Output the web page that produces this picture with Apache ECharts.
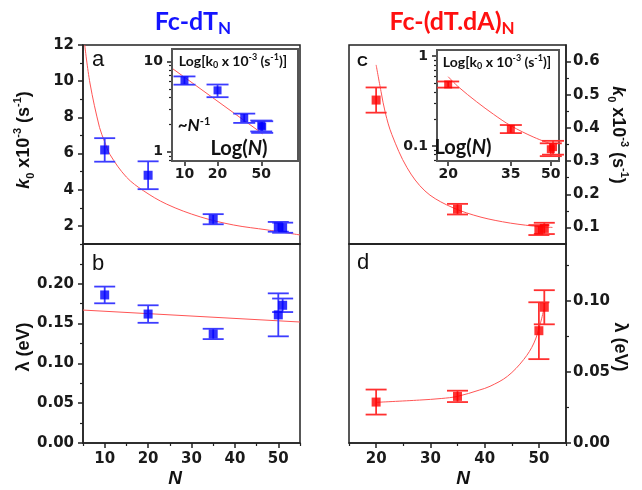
<!DOCTYPE html>
<html>
<head>
<meta charset="utf-8">
<title>Fc-dT vs Fc-(dT.dA)</title>
<script src="https://cdn.jsdelivr.net/npm/echarts@6/dist/echarts.min.js"></script>
</head>
<body style="margin:0;background:#fff">
<div id="container" style="width:642px;height:490px"></div>
<script type="text/javascript">
// Fc-dT_N (blue)
var nBlue = [10, 20, 35, 50, 51];
var k0Blue = [6.2, 4.8, 2.37, 1.95, 1.9];
var k0BlueErr = [0.65, 0.77, 0.28, 0.27, 0.28];
var lamBlue = [0.186, 0.162, 0.137, 0.161, 0.173];
var lamBlueErr = [0.0105, 0.011, 0.0065, 0.027, 0.0085];

// Fc-(dT.dA)_N (red)
var nRed = [20, 35, 50, 51];
var k0Red = [0.484, 0.155, 0.092, 0.097];
var k0RedErr = [0.038, 0.016, 0.015, 0.017];
var lamRed = [0.0288, 0.0328, 0.079, 0.0955];
var lamRedErr = [0.0088, 0.004, 0.020, 0.012];

// fitted curves
var fitA_N = [5.4, 6.6, 8.8, 10, 11.2, 15, 18.9, 24.3, 32, 39.7, 47.4, 55];
var fitA_k = [12, 9.9, 7.45, 6.65, 5.95, 4.7, 3.95, 3.2, 2.5, 2.05, 1.78, 1.5];
var fitB_N = [5, 55];
var fitB_lam = [0.167, 0.152];
var fitC_N = [20, 20.9, 21.7, 22.9, 25.7, 29, 33, 38, 43.3, 49, 52.5];
var fitC_k = [0.59, 0.51, 0.445, 0.38, 0.28, 0.21, 0.168, 0.137, 0.117, 0.104, 0.1];
var fitD_N = [20, 28, 32, 35, 39, 41, 44.2, 47.2, 49.1, 50.3, 50.9];
var fitD_lam = [0.0286, 0.0302, 0.0313, 0.0328, 0.0372, 0.0399, 0.0469, 0.0587, 0.0704, 0.0845, 0.0939];
var fitInsA_N = [7.86, 51.5];
var fitInsA_k = [8.3, 1.58];
var fitInsC_N = [20, 22, 25.8, 30, 35, 43, 51.2];
var fitInsC_k = [0.59, 0.45, 0.31, 0.225, 0.168, 0.125, 0.103];

// tick labels
var ticksA = [2, 4, 6, 8, 10, 12];
var ticksB = [0, 0.05, 0.1, 0.15, 0.2];
var ticksC = [0.1, 0.2, 0.3, 0.4, 0.5, 0.6];
var ticksD = [0, 0.05, 0.1];
var ticksNb = [10, 20, 30, 40, 50];
var ticksNd = [20, 30, 40, 50];
var ticksInsAx = [10, 20, 50];
var ticksInsAy = [1, 10];
var ticksInsCx = [20, 35, 50];
var ticksInsCy = [0.1, 1];

var BLUE = '#0000ff', BLUE_ERR = '#3c3cff', RED = '#ff0000', RED_ERR = '#ff3030', FIT = '#ff5555';
var lab = {color: '#1a1a1a', fontFamily: 'DejaVu Sans', fontWeight: 'bold', fontSize: 15};
var axisCol = '#222';

function mkAxis(grid, pos, type, min, max, major, fmt, margin, fs) {
    return {
        type: type, gridIndex: grid, position: pos, min: min, max: max,
        axisLine: {show: true, onZero: false, lineStyle: {color: axisCol, width: 1.5}},
        axisTick: {show: major.length > 0, length: 5, customValues: major, lineStyle: {color: axisCol, width: 1.5}},
        axisLabel: Object.assign({}, lab, {show: !!fmt, customValues: major, formatter: fmt, margin: margin || 8, fontSize: fs || lab.fontSize}),
        splitLine: {show: false}, minorTick: {show: false}
    };
}
function mkMinor(grid, pos, type, min, max, minor) {
    return {
        type: type, gridIndex: grid, position: pos, min: min, max: max,
        axisLine: {show: false, onZero: false},
        axisTick: {show: true, length: 3, customValues: minor, lineStyle: {color: axisCol, width: 1.2}},
        axisLabel: {show: false}, splitLine: {show: false}
    };
}
function pts(xs, ys) { return xs.map(function (x, i) { return [x, ys[i]]; }); }
function errs(xs, ys, es) { return xs.map(function (x, i) { return [x, ys[i] - es[i], ys[i] + es[i]]; }); }
function errorBars(cap, color) {
    return function (params, api) {
        var x = api.value(0);
        var t = api.coord([x, api.value(2)]);
        var b = api.coord([x, api.value(1)]);
        var st = {stroke: color, lineWidth: 1.8};
        return {type: 'group', children: [
            {type: 'line', shape: {x1: t[0], y1: t[1], x2: b[0], y2: b[1]}, style: st},
            {type: 'line', shape: {x1: t[0] - cap, y1: t[1], x2: t[0] + cap, y2: t[1]}, style: st},
            {type: 'line', shape: {x1: b[0] - cap, y1: b[1], x2: b[0] + cap, y2: b[1]}, style: st}
        ]};
    };
}
function panel(xi, yi, xs, ys, es, fx, fy, col, ecol, size, cap, z) {
    return [
        {type: 'line', xAxisIndex: xi, yAxisIndex: yi, data: pts(fx, fy), smooth: fx.length > 2 ? 0.35 : false,
         showSymbol: false, lineStyle: {color: FIT, width: 1}, z: z, silent: true},
        {type: 'custom', xAxisIndex: xi, yAxisIndex: yi, data: errs(xs, ys, es), renderItem: errorBars(cap, ecol),
         encode: {x: 0, y: [1, 2]}, z: z + 1, silent: true},
        {type: 'scatter', xAxisIndex: xi, yAxisIndex: yi, data: pts(xs, ys), symbol: 'rect', symbolSize: size,
         itemStyle: {color: col}, z: z + 2, silent: true}
    ];
}
function f2(v) { return v.toFixed(2); }
function f1(v) { return v.toFixed(1); }
function f0(v) { return String(Math.round(v)); }
function fl(v) { return String(+(+v).toPrecision(3)); }

var frame = {show: true, borderColor: axisCol, borderWidth: 1.5, backgroundColor: 'transparent'};
var inset = {show: true, borderColor: '#555', borderWidth: 2, backgroundColor: '#fff'};

var xAxis = [
    mkAxis(0, 'bottom', 'value', 5, 55, [], null),                       // 0 a
    mkAxis(1, 'bottom', 'value', 5, 55, ticksNb, f0, 9),                 // 1 b
    mkMinor(1, 'bottom', 'value', 5, 55, [5, 15, 25, 35, 45, 55]),       // 2 b minor
    mkAxis(2, 'bottom', 'value', 15, 55, [], null),                      // 3 c
    mkAxis(3, 'bottom', 'value', 15, 55, ticksNd, f0, 9),                // 4 d
    mkMinor(3, 'bottom', 'value', 15, 55, [15, 25, 35, 45, 55]),         // 5 d minor
    mkAxis(4, 'bottom', 'log', 7.7, 108, ticksInsAx, fl, 6, 14),         // 6 inset a
    mkAxis(5, 'bottom', 'log', 18.1, 53.8, ticksInsCx, fl, 6, 14)        // 7 inset c
];
var yAxis = [
    mkAxis(0, 'left', 'value', 1, 12, ticksA, f0, 9),                    // 0 a
    mkMinor(0, 'left', 'value', 1, 12, [1, 3, 5, 7, 9, 11]),             // 1
    mkAxis(1, 'left', 'value', 0, 0.25, ticksB, f2, 9),                  // 2 b
    mkMinor(1, 'left', 'value', 0, 0.25, [0.025, 0.075, 0.125, 0.175, 0.225]), // 3
    mkAxis(2, 'right', 'value', 0.05, 0.65, ticksC, f1, 7),              // 4 c
    mkMinor(2, 'right', 'value', 0.05, 0.65, [0.15, 0.25, 0.35, 0.45, 0.55]),  // 5
    mkAxis(3, 'right', 'value', 0, 0.14, ticksD, f2, 7),                 // 6 d
    mkMinor(3, 'right', 'value', 0, 0.14, [0.025, 0.075, 0.125]),        // 7
    mkAxis(4, 'left', 'log', 0.79, 13.8, ticksInsAy, fl, 9, 14),         // 8 inset a
    mkMinor(4, 'left', 'log', 0.79, 13.8, [0.8, 0.9, 2, 3, 4, 5, 6, 7, 8, 9]), // 9
    mkAxis(5, 'left', 'log', 0.068, 1.17, ticksInsCy, fl, 9, 14),        // 10 inset c
    mkMinor(5, 'left', 'log', 0.068, 1.17, [0.07, 0.08, 0.09, 0.2, 0.3, 0.4, 0.5, 0.6, 0.7, 0.8, 0.9]) // 11
];

var series = [].concat(
    panel(0, 0, nBlue, k0Blue, k0BlueErr, fitA_N, fitA_k, BLUE, BLUE_ERR, 9, 10.5, 2),
    panel(1, 2, nBlue, lamBlue, lamBlueErr, fitB_N, fitB_lam, BLUE, BLUE_ERR, 9, 10.5, 2),
    panel(3, 4, nRed, k0Red, k0RedErr, fitC_N, fitC_k, RED, RED_ERR, 9, 10.5, 2),
    panel(4, 6, nRed, lamRed, lamRedErr, fitD_N, fitD_lam, RED, RED_ERR, 9, 10.5, 2),
    panel(6, 8, nBlue, k0Blue, k0BlueErr, fitInsA_N, fitInsA_k, BLUE, BLUE_ERR, 8, 11, 10),
    panel(7, 10, nRed, k0Red, k0RedErr, fitInsC_N, fitInsC_k, RED, RED_ERR, 8, 11, 10)
);

var tf = 'Lato';
function richK(size, color) {
    var s = Math.round(size * 0.62);
    return {
        i: {fontSize: size, fontStyle: 'italic', fontWeight: 'bold', fontFamily: 'Liberation Sans', fill: color, lineHeight: size + 6},
        n: {fontSize: size, fontWeight: 'bold', fontFamily: 'Liberation Sans', fill: color, lineHeight: size + 6},
        sup: {fontSize: s, fontWeight: 'bold', fontFamily: 'Liberation Sans', fill: color, lineHeight: s, verticalAlign: 'top'},
        sub: {fontSize: s, fontWeight: 'bold', fontFamily: 'Liberation Sans', fill: color, lineHeight: s, verticalAlign: 'bottom'}
    };
}
var insRich = {
    n: {fontSize: 14, fontWeight: 'bold', fontFamily: tf, fill: '#111', lineHeight: 17},
    sup: {fontSize: 9, fontWeight: 'bold', fontFamily: tf, fill: '#111', lineHeight: 9, verticalAlign: 'top'},
    sub: {fontSize: 9, fontWeight: 'bold', fontFamily: tf, fill: '#111', lineHeight: 9, verticalAlign: 'bottom'}
};
var kLabel = '{i|k}{sub|0}{n| x10}{sup|-3}{n| (s}{sup|-1}{n|)}';
var insLabel = '{n|Log[k}{sub|0}{n| x 10}{sup|-3}{n| (s}{sup|-1}{n|)]}';
function titleRich(color) {
    return {
        t: {fontSize: 25, fontWeight: 'bold', fontFamily: tf, fill: color, lineHeight: 30},
        s: {fontSize: 17, fontWeight: 'bold', fontFamily: tf, fill: color, lineHeight: 17, verticalAlign: 'bottom'}
    };
}
function letter(x, y, t, bold, size) {
    return {type: 'text', x: x, y: y, z: 100,
        style: {text: t, fontSize: size || 22, fontWeight: bold ? 'bold' : 'normal', fontFamily: 'Liberation Sans', fill: '#111', align: 'left', verticalAlign: 'bottom'}};
}
function logN(x, y) {
    return {type: 'text', x: x, y: y, z: 100, style: {text: '{n|Log(}{i|N}{n|)}', align: 'center', verticalAlign: 'middle', rich: {
        n: {fontSize: 20, fontWeight: 'bold', fontFamily: tf, fill: '#111'},
        i: {fontSize: 20, fontWeight: 'bold', fontStyle: 'italic', fontFamily: tf, fill: '#111'}}}};
}

var graphic = [
    {type: 'text', x: 193, y: 22, z: 100, style: {text: '{t|Fc-dT}{s|N}', align: 'center', verticalAlign: 'middle', rich: titleRich('#1414ff')}},
    {type: 'text', x: 452, y: 22, z: 100, style: {text: '{t|Fc-(dT.dA)}{s|N}', align: 'center', verticalAlign: 'middle', rich: titleRich('#ff1010')}},
    letter(92, 71, 'a'), letter(92, 275, 'b'), letter(357, 69, 'C', true, 15), letter(357, 274, 'd'),
    {type: 'text', x: 24, y: 140, rotation: Math.PI / 2, z: 100, style: {text: kLabel, align: 'center', verticalAlign: 'middle', rich: richK(18, '#111')}},
    {type: 'text', x: 618, y: 135, rotation: -Math.PI / 2, z: 100, style: {text: kLabel, align: 'center', verticalAlign: 'middle', rich: richK(18, '#111')}},
    {type: 'text', x: 24, y: 347, rotation: Math.PI / 2, z: 100, style: {text: 'λ (eV)', align: 'center', verticalAlign: 'middle', fontSize: 18, fontWeight: 'bold', fontFamily: 'Liberation Sans', fill: '#111'}},
    {type: 'text', x: 620, y: 347, rotation: -Math.PI / 2, z: 100, style: {text: 'λ (eV)', align: 'center', verticalAlign: 'middle', fontSize: 18, fontWeight: 'bold', fontFamily: 'Liberation Sans', fill: '#111'}},
    {type: 'text', x: 175, y: 479, z: 100, style: {text: 'N', align: 'center', verticalAlign: 'middle', fontSize: 19, fontWeight: 'bold', fontStyle: 'italic', fontFamily: 'Liberation Sans', fill: '#111'}},
    {type: 'text', x: 463, y: 479, z: 100, style: {text: 'N', align: 'center', verticalAlign: 'middle', fontSize: 19, fontWeight: 'bold', fontStyle: 'italic', fontFamily: 'Liberation Sans', fill: '#111'}},
    {type: 'text', x: 233, y: 61, z: 100, style: {text: insLabel, align: 'center', verticalAlign: 'middle', rich: insRich}},
    {type: 'text', x: 497, y: 62, z: 100, style: {text: insLabel, align: 'center', verticalAlign: 'middle', rich: insRich}},
    {type: 'text', x: 194, y: 126, z: 100, style: {text: '{n|~}{i|N}{sup|-1}', align: 'center', verticalAlign: 'middle', rich: {
        n: {fontSize: 17, fontWeight: 'bold', fontFamily: tf, fill: '#111', lineHeight: 20},
        i: {fontSize: 17, fontWeight: 'bold', fontStyle: 'italic', fontFamily: tf, fill: '#111', lineHeight: 20},
        sup: {fontSize: 11, fontWeight: 'bold', fontFamily: tf, fill: '#111', lineHeight: 11, verticalAlign: 'top'}}}},
    logN(239, 149), logN(463, 148)
];

var dom = document.getElementById('container');
var myChart = echarts.init(dom, null, {renderer: 'canvas'});
var option = {
    animation: false,
    backgroundColor: '#fff',
    grid: [
        Object.assign({left: 83, top: 45, width: 217, height: 199}, frame),
        Object.assign({left: 83, top: 244, width: 217, height: 199}, frame),
        Object.assign({left: 349, top: 45, width: 217, height: 199}, frame),
        Object.assign({left: 349, top: 244, width: 217, height: 199}, frame),
        Object.assign({left: 172, top: 49, width: 126, height: 112, z: 5}, inset),
        Object.assign({left: 437, top: 50, width: 122, height: 111, z: 5}, inset)
    ],
    xAxis: xAxis,
    yAxis: yAxis,
    series: series,
    graphic: graphic
};
myChart.setOption(option);
</script>
</body>
</html>
